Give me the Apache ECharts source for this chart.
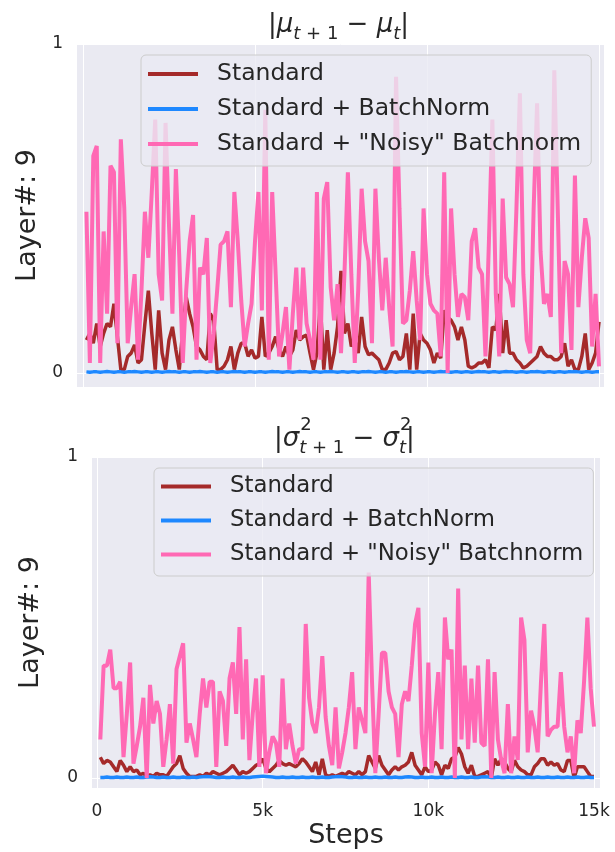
<!DOCTYPE html>
<html>
<head>
<meta charset="utf-8">
<script src="https://cdn.jsdelivr.net/npm/echarts@6/dist/echarts.min.js"></script>
<style>
  html, body { margin: 0; background: #ffffff; }
  #chart { width: 615px; height: 852px; }
</style>
</head>
<body>
<div id="chart"></div>
<script>
// training steps, one sample every 100 steps
const steps = Array.from({ length: 150 }, (_, k) => (k + 1) * 100);
const xTicks = [0, 5000, 10000, 15000];
const xTickLabels = ['0', '5k', '10k', '15k'];
const yTicks = [0, 1];
const names = ['Standard', 'Standard + BatchNorm', 'Standard + "Noisy" Batchnorm'];

// |mu_{t+1} - mu_t|
const muStandard = [
  0.10, 0.12, 0.09, 0.15, 0.08, 0.12, 0.15, 0.14, 0.21, 0.11,
  0.01, 0.01, 0.05, 0.06, 0.085, 0.03, 0.04, 0.15, 0.25, 0.12,
  0.01, 0.19, 0.06, 0.01, 0.10, 0.14, 0.07, 0.01, 0.13, 0.23,
  0.18, 0.14, 0.08, 0.07, 0.05, 0.04, 0.18, 0.16, 0.01, 0.01,
  0.02, 0.04, 0.08, 0.01, 0.06, 0.09, 0.09, 0.05, 0.07, 0.045,
  0.05, 0.17, 0.05, 0.06, 0.08, 0.11, 0.07, 0.05, 0.08, 0.05,
  0.07, 0.13, 0.10, 0.11, 0.115, 0.06, 0.01, 0.06, 0.21, 0.01,
  0.13, 0.01, 0.06, 0.14, 0.31, 0.12, 0.15, 0.08, 0.10, 0.06,
  0.17, 0.08, 0.055, 0.06, 0.05, 0.04, 0.01, 0.01, 0.03, 0.06,
  0.065, 0.04, 0.05, 0.12, 0.01, 0.18, 0.01, 0.12, 0.10, 0.09,
  0.07, 0.03, 0.06, 0.045, 0.19, 0.17, 0.16, 0.14, 0.10, 0.14,
  0.10, 0.02, 0.015, 0.02, 0.03, 0.03, 0.04, 0.015, 0.14, 0.13,
  0.24, 0.06, 0.16, 0.06, 0.06, 0.04, 0.03, 0.015, 0.02, 0.03,
  0.04, 0.05, 0.08, 0.06, 0.05, 0.05, 0.04, 0.04, 0.05, 0.09,
  0.02, 0.04, 0.01, 0.01, 0.05, 0.12, 0.01, 0.03, 0.06, 0.155
];
const muBatchNorm = [
  0.003, 0.002, 0.003, 0.003, 0.002, 0.003, 0.004, 0.003, 0.002, 0.003,
  0.003, 0.002, 0.003, 0.003, 0.004, 0.003, 0.002, 0.003, 0.003, 0.002,
  0.003, 0.003, 0.002, 0.003, 0.004, 0.003, 0.003, 0.002, 0.003, 0.003,
  0.002, 0.003, 0.003, 0.004, 0.003, 0.002, 0.003, 0.003, 0.002, 0.003,
  0.003, 0.002, 0.003, 0.004, 0.003, 0.003, 0.002, 0.003, 0.003, 0.002,
  0.003, 0.003, 0.002, 0.003, 0.004, 0.003, 0.003, 0.002, 0.003, 0.003,
  0.002, 0.003, 0.004, 0.003, 0.003, 0.002, 0.003, 0.003, 0.002, 0.003,
  0.003, 0.004, 0.003, 0.002, 0.003, 0.003, 0.002, 0.003, 0.003, 0.002,
  0.003, 0.003, 0.004, 0.003, 0.002, 0.003, 0.003, 0.002, 0.003, 0.003,
  0.002, 0.003, 0.003, 0.004, 0.003, 0.002, 0.003, 0.003, 0.002, 0.003,
  0.003, 0.002, 0.003, 0.004, 0.003, 0.003, 0.002, 0.003, 0.003, 0.002,
  0.003, 0.003, 0.002, 0.003, 0.004, 0.003, 0.003, 0.002, 0.003, 0.003,
  0.002, 0.003, 0.004, 0.003, 0.003, 0.002, 0.003, 0.003, 0.002, 0.003,
  0.003, 0.004, 0.003, 0.002, 0.003, 0.003, 0.002, 0.003, 0.003, 0.002,
  0.003, 0.003, 0.004, 0.003, 0.002, 0.003, 0.003, 0.002, 0.003, 0.003
];
const muNoisy = [
  0.49, 0.03, 0.66, 0.69, 0.03, 0.43, 0.18, 0.63, 0.61, 0.09,
  0.71, 0.50, 0.09, 0.20, 0.30, 0.04, 0.25, 0.49, 0.35, 0.55,
  0.77, 0.30, 0.22, 0.76, 0.45, 0.18, 0.62, 0.35, 0.03, 0.25,
  0.40, 0.48, 0.04, 0.32, 0.30, 0.41, 0.03, 0.12, 0.25, 0.39,
  0.40, 0.43, 0.20, 0.55, 0.40, 0.22, 0.08, 0.15, 0.21, 0.40,
  0.55, 0.19, 0.80, 0.04, 0.55, 0.30, 0.05, 0.12, 0.20, 0.01,
  0.18, 0.32, 0.10, 0.32, 0.15, 0.10, 0.04, 0.55, 0.04, 0.53,
  0.58, 0.26, 0.16, 0.27, 0.06, 0.30, 0.61, 0.30, 0.03, 0.25,
  0.56, 0.40, 0.34, 0.09, 0.56, 0.35, 0.19, 0.35, 0.20, 0.08,
  0.90, 0.50, 0.15, 0.16, 0.25, 0.37, 0.22, 0.10, 0.50, 0.30,
  0.21, 0.19, 0.18, 0.05, 0.61, 0.00, 0.50, 0.30, 0.17, 0.24,
  0.23, 0.16, 0.40, 0.44, 0.32, 0.30, 0.05, 0.40, 0.77, 0.24,
  0.05, 0.53, 0.29, 0.27, 0.20, 0.50, 0.85, 0.30, 0.10, 0.06,
  0.50, 0.82, 0.37, 0.21, 0.24, 0.17, 0.92, 0.50, 0.06, 0.34,
  0.30, 0.07, 0.60, 0.20, 0.35, 0.47, 0.41, 0.08, 0.24, 0.02
];

// |sigma^2_{t+1} - sigma^2_t|
const varStandard = [
  0.065, 0.045, 0.055, 0.05, 0.035, 0.02, 0.055, 0.04, 0.02, 0.035,
  0.02, 0.025, 0.01, 0.015, 0.005, 0.01, 0.005, 0.015, 0.01, 0.01,
  0.005, 0.02, 0.035, 0.045, 0.07, 0.03, 0.015, 0.005, 0.005, 0.005,
  0.01, 0.005, 0.015, 0.01, 0.02, 0.015, 0.01, 0.015, 0.02, 0.03,
  0.04, 0.025, 0.01, 0.02, 0.015, 0.02, 0.03, 0.04, 0.045, 0.06,
  0.03, 0.02, 0.03, 0.04, 0.055, 0.045, 0.04, 0.045, 0.04, 0.035,
  0.045, 0.06, 0.05, 0.035, 0.02, 0.05, 0.01, 0.06, 0.01, 0.005,
  0.01, 0.005, 0.01, 0.015, 0.01, 0.02, 0.015, 0.01, 0.02, 0.01,
  0.02, 0.07, 0.05, 0.03, 0.07, 0.04, 0.025, 0.01, 0.025, 0.035,
  0.025, 0.035, 0.04, 0.05, 0.08, 0.04, 0.025, 0.01, 0.035, 0.02,
  0.025, 0.05, 0.04, 0.01, 0.04, 0.03, 0.06, 0.065, 0.095, 0.075,
  0.035, 0.015, 0.04, 0.005, 0.005, 0.01, 0.015, 0.02, 0.0, 0.06,
  0.04, 0.06, 0.05, 0.03, 0.02, 0.055, 0.035, 0.025, 0.02, 0.01,
  0.01, 0.035, 0.045, 0.06, 0.06, 0.04, 0.05, 0.04, 0.045, 0.025,
  0.02, 0.055, 0.055, 0.0, 0.035, 0.035, 0.035, 0.02, 0.005, 0.005
];
const varBatchNorm = [
  0.002, 0.002, 0.003, 0.002, 0.002, 0.003, 0.002, 0.002, 0.003, 0.002,
  0.002, 0.003, 0.002, 0.002, 0.003, 0.004, 0.003, 0.002, 0.002, 0.003,
  0.002, 0.002, 0.003, 0.002, 0.002, 0.003, 0.002, 0.002, 0.003, 0.002,
  0.003, 0.004, 0.005, 0.004, 0.003, 0.002, 0.002, 0.003, 0.002, 0.002,
  0.003, 0.002, 0.002, 0.003, 0.002, 0.002, 0.003, 0.004, 0.005, 0.006,
  0.005, 0.004, 0.003, 0.002, 0.002, 0.003, 0.002, 0.002, 0.003, 0.002,
  0.002, 0.003, 0.002, 0.002, 0.003, 0.002, 0.002, 0.003, 0.002, 0.002,
  0.003, 0.004, 0.005, 0.004, 0.003, 0.002, 0.002, 0.003, 0.002, 0.002,
  0.003, 0.002, 0.002, 0.003, 0.002, 0.002, 0.003, 0.002, 0.002, 0.003,
  0.002, 0.002, 0.003, 0.004, 0.003, 0.002, 0.002, 0.003, 0.002, 0.002,
  0.003, 0.002, 0.002, 0.003, 0.002, 0.002, 0.003, 0.002, 0.002, 0.003,
  0.002, 0.002, 0.003, 0.002, 0.002, 0.003, 0.004, 0.003, 0.002, 0.002,
  0.003, 0.002, 0.002, 0.003, 0.002, 0.002, 0.003, 0.002, 0.002, 0.003,
  0.002, 0.002, 0.003, 0.002, 0.002, 0.003, 0.002, 0.002, 0.003, 0.002,
  0.002, 0.003, 0.002, 0.002, 0.003, 0.002, 0.002, 0.003, 0.002, 0.002
];
const varNoisy = [
  0.12, 0.35, 0.35, 0.40, 0.28, 0.28, 0.30, 0.065, 0.20, 0.36,
  0.045, 0.10, 0.16, 0.25, 0.0, 0.29, 0.17, 0.24, 0.20, 0.035,
  0.12, 0.23, 0.045, 0.34, 0.38, 0.42, 0.11, 0.17, 0.12, 0.065,
  0.20, 0.31, 0.22, 0.30, 0.30, 0.035, 0.27, 0.24, 0.10, 0.31,
  0.36, 0.20, 0.47, 0.12, 0.37, 0.056, 0.20, 0.31, 0.035, 0.32,
  0.015, 0.08, 0.13, 0.11, 0.035, 0.31, 0.09, 0.17, 0.10, 0.045,
  0.09, 0.09, 0.48, 0.25, 0.17, 0.14, 0.22, 0.38, 0.19, 0.10,
  0.04, 0.22, 0.03, 0.08, 0.14, 0.22, 0.33, 0.09, 0.22, 0.18,
  0.14, 0.64, 0.30, 0.015, 0.20, 0.39, 0.39, 0.27, 0.22, 0.20,
  0.065, 0.23, 0.27, 0.24, 0.35, 0.48, 0.53, 0.14, 0.035, 0.36,
  0.015, 0.20, 0.33, 0.09, 0.50, 0.37, 0.40, 0.0, 0.59, 0.12,
  0.35, 0.09, 0.31, 0.11, 0.35, 0.11, 0.10, 0.37, 0.0, 0.33,
  0.12, 0.056, 0.015, 0.23, 0.015, 0.13, 0.056, 0.50, 0.43, 0.08,
  0.21, 0.16, 0.08, 0.30, 0.48, 0.13, 0.15, 0.16, 0.16, 0.33,
  0.16, 0.08, 0.13, 0.015, 0.18, 0.14, 0.30, 0.50, 0.28, 0.16
];

const font = 'DejaVu Sans';
const ink = '#262626';
const colors = ['#a52a2a', '#1e88ff', '#ff69b4'];
const widths = [3.5, 3.5, 4];

function xAxisFor(gridIndex, min, max, withLabels) {
  return {
    type: 'value', gridIndex: gridIndex, min: min, max: max,
    axisLine: { show: false },
    axisTick: { show: false, customValues: xTicks },
    axisLabel: {
      show: withLabels, customValues: xTicks, margin: 15,
      color: ink, fontFamily: font, fontSize: 17,
      formatter: v => xTickLabels[xTicks.indexOf(v)]
    },
    splitLine: { show: true, lineStyle: { color: '#ffffff', width: 1 } },
    name: withLabels ? 'Steps' : '',
    nameLocation: 'middle', nameGap: 34,
    nameTextStyle: { color: ink, fontFamily: font, fontSize: 27 }
  };
}

function yAxisFor(gridIndex, min, gap) {
  return {
    type: 'value', gridIndex: gridIndex, min: min, max: 1,
    axisLine: { show: false },
    axisTick: { show: false, customValues: yTicks },
    axisLabel: { customValues: yTicks, margin: 14, color: ink, fontFamily: font, fontSize: 17 },
    splitLine: { show: true, lineStyle: { color: '#ffffff', width: 1 } },
    name: 'Layer#: 9', nameLocation: 'middle', nameRotate: 90, nameGap: gap,
    nameTextStyle: { color: ink, fontFamily: font, fontSize: 27 }
  };
}

function legendFor(left, top, size) {
  return {
    data: names, orient: 'vertical', left: left, top: top,
    icon: 'path://M0,0H50V4H0Z',
    itemWidth: 50, itemHeight: size, itemGap: 11,
    padding: [7, 10, 10, 7],
    backgroundColor: 'rgba(234,234,242,0.8)',
    borderColor: '#cccccc', borderWidth: 1, borderRadius: 5,
    selectedMode: false,
    textStyle: { color: ink, fontFamily: font, fontSize: size, padding: [0, 0, 0, 14] }
  };
}

function lines(gridIndex, seriesData) {
  return seriesData.map((vals, j) => ({
    name: names[j], type: 'line',
    xAxisIndex: gridIndex, yAxisIndex: gridIndex,
    data: steps.map((s, k) => [s, vals[k]]),
    symbol: 'none',
    lineStyle: { color: colors[j], width: widths[j] },
    itemStyle: { color: colors[j] }
  }));
}

const titleRich = {
  b: { fontFamily: font, fontSize: 26, fontWeight: 'normal', color: ink, lineHeight: 40 },
  m: { fontFamily: font, fontSize: 26, fontWeight: 'normal', fontStyle: 'italic', color: ink, lineHeight: 40 },
  si: { fontFamily: font, fontSize: 18, fontWeight: 'normal', fontStyle: 'italic', color: ink, padding: [18, 0, 0, 0] },
  s: { fontFamily: font, fontSize: 18, fontWeight: 'normal', color: ink, padding: [18, 0, 0, 0] }
};

// where the superscript 2s go: right after each sigma of the lower title
const measure = document.createElement('canvas').getContext('2d');
function textWidth(str, size, italic) {
  measure.font = (italic ? 'italic ' : '') + size + 'px "' + font + '"';
  return measure.measureText(str).width;
}
const sigTitleLeft = 274;
const sup1 = sigTitleLeft + textWidth('|', 26) + textWidth('σ', 26, true) + 1;
const sup2 = sup1 - 1 + textWidth('t', 18, true) + textWidth(' + 1', 18)
  + textWidth(' − ', 26) + textWidth('σ', 26, true) + 1;

const chart = echarts.init(document.getElementById('chart'));
chart.setOption({
  animation: false,
  backgroundColor: '#ffffff',
  title: [
    {
      text: '{b||}{m|μ}{si|t}{s| + 1}{b| − }{m|μ}{si|t}{b||}',
      left: 268, top: 5, padding: 0,
      textStyle: { fontWeight: 'normal', rich: titleRich }
    },
    {
      text: '{b||}{m|σ}{si|t}{s| + 1}{b| − }{m|σ}{si|t}{b||}',
      left: sigTitleLeft, top: 419, padding: 0,
      textStyle: { fontWeight: 'normal', rich: titleRich }
    }
  ],
  graphic: [
    { type: 'text', x: sup1, y: 416, style: { text: '2', fontFamily: font, fontSize: 18, fill: ink } },
    { type: 'text', x: sup2, y: 416, style: { text: '2', fontFamily: font, fontSize: 18, fill: ink } }
  ],
  grid: [
    { left: 77, top: 44, width: 527, height: 343, show: true, backgroundColor: '#eaeaf2', borderWidth: 0 },
    { left: 92, top: 457, width: 508, height: 331, show: true, backgroundColor: '#eaeaf2', borderWidth: 0 }
  ],
  xAxis: [xAxisFor(0, -174, 15145, false), xAxisFor(1, -151, 15181, true)],
  yAxis: [yAxisFor(0, -0.043, 33), yAxisFor(1, -0.031, 48)],
  legend: [legendFor(141, 55, 23.5), legendFor(154, 468, 22.8)],
  series: lines(0, [muStandard, muBatchNorm, muNoisy])
    .concat(lines(1, [varStandard, varBatchNorm, varNoisy]))
});
</script>
</body>
</html>
